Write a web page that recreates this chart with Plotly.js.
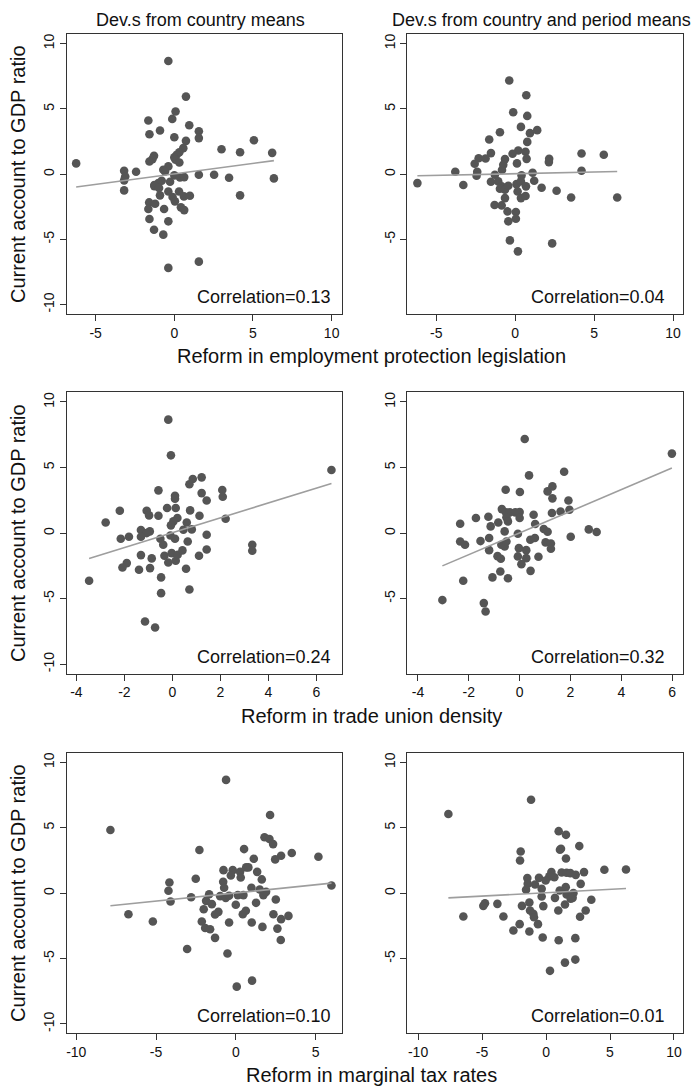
<!DOCTYPE html>
<html>
<head>
<meta charset="utf-8">
<script src="https://cdn.plot.ly/plotly-3.0.1.min.js"></script>
<style>html,body{margin:0;padding:0;background:#fff;}#chart{width:696px;height:1086px;}</style>
</head>
<body>
<div id="chart"></div>
<script>
// ---------------- DATA ----------------
const columnTitles = ["Dev.s from country means", "Dev.s from country and period means"];
const xAxisTitles = ["Reform in employment protection legislation", "Reform in trade union density", "Reform in marginal tax rates"];
const yAxisTitle = "Current account to GDP ratio";

// Panel 1: EPL, deviations from country means
const eplCountryX = [-6.24,-0.38,0.74,0.08,-0.13,-1.65,0.95,-0.91,-1.58,1.56,1.56,0,0.74,5.06,0.57,3.0,4.18,6.22,0.32,0.15,-1.29,-1.39,-1.58,0,0.08,0.32,-0.38,-0.70,-0.59,-3.19,-2.43,-3.12,-3.19,-3.19,0,0.36,0.63,1.56,2.53,3.48,6.33,-0.80,-1.01,-1.27,-1.27,-0.97,-0.27,-0.38,0.30,-0.91,-0.11,0.04,0.61,0.99,4.18,-1.60,-1.22,-1.65,0.42,0.63,-0.65,-1.58,-0.38,-1.29,-0.70,1.56,-0.38];
const eplCountryY = [0.82,8.67,5.94,4.80,4.23,4.11,3.75,3.34,3.06,3.29,2.76,2.83,2.55,2.60,1.99,1.91,1.68,1.63,1.68,1.48,1.40,1.15,0.97,1.28,1.10,0.89,0.59,0.33,0.20,0.26,0.18,-0.18,-0.48,-1.25,-0.10,-0.26,-0.23,-0.05,-0.05,-0.28,-0.33,-0.51,-0.69,-0.84,-0.92,-1.07,-0.59,-1.33,-1.33,-1.63,-1.76,-2.09,-1.71,-1.66,-1.63,-2.17,-2.27,-2.68,-2.55,-2.76,-2.68,-3.44,-3.62,-4.26,-4.64,-6.71,-7.19];

// Panel 2: EPL, deviations from country and period means
const eplPeriodX = [-6.20,-0.38,0.70,-0.13,0.76,0.36,0.93,1.39,-0.97,-1.65,0.76,-1.54,0.19,-0.17,0.65,4.20,5.61,-2.32,-1.88,-2.57,-0.65,-0.76,0.11,0.72,2.15,2.13,-3.80,-2.41,-2.45,-0.84,4.20,1.10,-1.29,-3.29,-1.54,-1.08,-0.86,-0.97,-0.65,-0.44,0.08,0.40,0.36,0.68,1.20,1.67,2.62,0.15,0.36,0.65,3.54,6.46,-0.65,-0.86,-1.31,-0.49,0.04,0.04,-0.44,-0.34,2.34,0.17];
const eplPeriodY = [-0.69,7.17,6.05,4.74,4.46,3.62,3.14,3.37,3.21,2.65,2.47,1.61,1.81,1.56,1.71,1.58,1.48,1.22,1.20,0.79,1.15,0.71,0.82,1.17,1.17,0.92,0.18,0.18,-0.13,0.31,0.26,0.10,-0.05,-0.84,-0.59,-0.56,-0.94,-1.12,-1.20,-0.89,-0.77,-0.10,-0.56,-0.94,-0.51,-1.05,-1.28,-1.33,-1.84,-1.68,-1.79,-1.79,-1.84,-2.40,-2.37,-2.86,-2.91,-3.42,-3.62,-5.08,-5.31,-5.92];

// Panel 3: trade union density, deviations from country means
const tudCountryX = [-3.47,-0.17,-0.06,6.63,1.22,0.85,0.71,-0.58,0.11,0.11,1.22,1.43,2.08,2.10,-2.19,-1.07,-0.97,-0.58,-0.22,0.14,0.74,1.13,2.22,-2.78,0.21,0.04,-0.06,0.60,-1.31,-0.94,-1.07,-1.31,-2.15,-1.81,-0.50,-0.38,-0.08,0.11,0.46,0.81,0.64,1.43,1.43,3.33,3.33,1.11,-1.31,-0.86,-0.33,-0.03,-0.17,0.14,0.22,0.42,-1.90,-2.08,-1.39,-0.93,0.57,-0.47,-0.47,0.71,-1.14,-0.72];
const tudCountryY = [-3.64,8.65,5.93,4.81,4.25,4.12,3.72,3.26,2.85,2.62,3.05,2.49,3.28,2.77,1.70,1.70,1.35,1.32,1.91,1.91,1.73,1.32,1.09,0.81,1.15,0.89,0.59,0.81,0.23,0.13,0.00,-0.28,-0.43,-0.28,-0.43,-0.89,-0.18,-0.43,0.25,0.28,-0.64,-0.13,-1.25,-0.89,-1.35,-1.73,-1.68,-1.93,-1.73,-1.53,-2.24,-2.11,-1.65,-1.32,-2.29,-2.62,-2.80,-2.67,-2.72,-3.38,-4.58,-4.30,-6.74,-7.20];

// Panel 4: trade union density, deviations from country and period means
const tudPeriodX = [-3.04,5.99,0.20,0.37,1.75,-0.55,0.01,1.10,1.29,1.29,1.92,-0.70,-1.72,-1.23,-0.54,-0.39,-0.17,0,-0.52,0,0.55,1.27,1.61,1.96,-2.34,-1.14,-0.84,-0.46,0.61,-0.59,-0.07,0.95,1.10,2.72,3.03,2.01,-2.34,-2.15,-1.54,-1.20,-1.20,-0.72,-0.59,-0.52,-0.87,-0.74,-0.03,-0.07,0.26,0.26,0.07,0.42,0.60,0.74,1.02,1.23,1.23,0.43,-0.76,-1.07,-0.46,-2.22,-1.41,-1.34];
const tudPeriodY = [-5.11,6.06,7.18,4.40,4.68,3.31,3.13,3.18,3.56,2.65,2.49,1.83,1.15,1.25,1.58,1.58,1.58,1.60,1.20,1.15,1.40,1.53,1.65,1.78,0.71,0.51,0.81,0.89,0.69,0.13,-0.05,0.31,0.10,0.28,0.08,-0.28,-0.64,-0.89,-0.61,-0.38,-1.30,-0.89,-1.02,-0.64,-1.76,-1.96,-1.15,-1.78,-1.30,-1.91,-2.37,-0.51,-0.38,-1.81,-0.71,-0.79,-1.20,-2.88,-2.93,-3.38,-3.44,-3.64,-5.34,-5.98];

// Panel 5: marginal tax rates, deviations from country means
const mtrCountryX = [-7.86,-0.61,2.15,1.80,2.11,2.34,-2.28,0.52,3.51,2.84,2.47,5.18,1.13,0.65,0.79,-0.77,-0.19,0.27,1.34,-0.31,0.31,-2.51,-4.16,-0.79,1.63,-4.22,-0.73,0.98,1.50,6.00,-1.67,-2.80,-0.98,-0.63,-0.42,0.13,0.48,1.73,1.90,-4.09,-1.86,-1.50,0,1.27,2.51,-2.01,-1.09,-1.30,0.44,0.63,2.36,3.30,2.84,-6.73,-5.20,-2.13,-0.42,1.00,-1.92,-1.61,1.67,2.61,-1.30,2.82,-3.05,-0.52,1.02,0.06];
const mtrCountryY = [4.83,8.66,5.98,4.27,4.14,3.75,3.30,3.37,3.07,2.86,2.58,2.78,2.63,1.97,1.97,1.76,1.76,1.63,1.63,1.35,1.20,1.10,0.82,0.87,1.05,0.18,0.41,0.41,0.28,0.59,-0.08,-0.31,-0.23,-0.36,-0.20,-0.15,-0.15,-0.15,0.10,-0.64,-0.59,-0.84,-0.89,-0.74,-0.49,-1.23,-1.43,-1.63,-1.61,-1.35,-1.61,-1.74,-1.99,-1.61,-2.17,-2.17,-2.25,-2.25,-2.66,-2.76,-2.58,-2.71,-3.42,-3.58,-4.27,-4.62,-6.69,-7.15];

// Panel 6: marginal tax rates, deviations from country and period means
const mtrPeriodX = [-7.63,-1.17,0.99,1.56,2.60,-1.98,1.09,1.17,-2.03,1.56,4.56,6.25,0.42,1.22,1.61,1.90,2.32,2.97,0.65,0.26,-0.55,-0.03,-1.46,-1.43,-0.86,2.71,-1.56,-0.34,1.54,1.07,1.61,2.14,-0.34,0.70,2.08,3.54,1.93,-4.77,-4.90,-3.80,-1.88,-1.30,-0.21,-1.25,-0.99,1.48,0.96,3.10,-6.46,-3.33,-0.94,2.66,-2.06,-0.63,-2.55,-1.30,-0.26,0.99,2.29,2.29,1.48,0.31];
const mtrPeriodY = [6.05,7.14,4.74,4.46,3.60,3.19,3.32,3.39,2.50,2.65,1.79,1.81,1.61,1.58,1.56,1.53,1.40,1.61,1.22,1.28,1.17,0.97,1.15,0.71,0.66,0.71,0.26,0.33,0.46,0.20,-0.10,0,-0.26,-0.36,-0.36,-0.51,-0.43,-0.77,-0.97,-0.82,-0.97,-0.71,-0.99,-1.33,-1.58,-0.87,-1.33,-1.33,-1.79,-1.79,-1.84,-1.81,-2.37,-2.37,-2.86,-2.93,-3.39,-3.60,-3.44,-5.08,-5.31,-5.94];

// Fitted lines (slope / intercept) and correlations
const fitSlope = [0.161, 0.026, 0.566, 0.826, 0.125, 0.0515];
const fitIntercept = [0.016, 0.03, 0.03, 0.01, 0.013, 0.03];
const correlations = [0.13, 0.04, 0.24, 0.32, 0.10, 0.01];

// Axis ticks and ranges
const xTicksEPL = [-5, 0, 5, 10];
const xTicksTUD = [-4, -2, 0, 2, 4, 6];
const xTicksMTRCountry = [-10, -5, 0, 5];
const xTicksMTRPeriod = [-10, -5, 0, 5, 10];
const yTicksLeft = [-10, -5, 0, 5, 10];
const yTicksRight = [-5, 0, 5, 10];
const xRanges = [[-6.82, 10.66], [-6.84, 10.65], [-4.39, 7.07], [-4.42, 6.44], [-10.58, 6.66], [-10.84, 10.73]];
const yRange = [-10.72, 10.74];

// ---------------- BUILD ----------------
const panelsX = [eplCountryX, eplPeriodX, tudCountryX, tudPeriodX, mtrCountryX, mtrPeriodX];
const panelsY = [eplCountryY, eplPeriodY, tudCountryY, tudPeriodY, mtrCountryY, mtrPeriodY];
const panelXTicks = [xTicksEPL, xTicksEPL, xTicksTUD, xTicksTUD, xTicksMTRCountry, xTicksMTRPeriod];

const colDomains = [[0.0963, 0.4914], [0.5852, 0.9818]];
const rowDomains = [[0.7109, 0.9687], [0.3797, 0.6388], [0.0485, 0.3069]];

const FONT = 'Liberation Sans, Arial, Helvetica, sans-serif';
const traces = [];
const layout = {
  width: 696, height: 1086,
  margin: {l: 0, r: 0, t: 0, b: 0},
  showlegend: false,
  paper_bgcolor: '#ffffff', plot_bgcolor: '#ffffff',
  font: {family: FONT, color: '#111111'},
  annotations: []
};

for (let i = 0; i < 6; i++) {
  const row = Math.floor(i / 2), col = i % 2;
  const sfx = i === 0 ? '' : String(i + 1);
  const xa = 'x' + sfx, ya = 'y' + sfx;
  const xs = panelsX[i], ys = panelsY[i];
  traces.push({
    type: 'scatter', mode: 'markers', x: xs, y: ys, xaxis: xa, yaxis: ya,
    marker: {color: '#555555', size: 8.6}, hoverinfo: 'skip'
  });
  const xmin = Math.min(...xs), xmax = Math.max(...xs);
  traces.push({
    type: 'scatter', mode: 'lines', x: [xmin, xmax],
    y: [fitIntercept[i] + fitSlope[i] * xmin, fitIntercept[i] + fitSlope[i] * xmax],
    xaxis: xa, yaxis: ya, line: {color: '#9e9e9e', width: 1.6}, hoverinfo: 'skip'
  });
  const common = {
    showline: true, mirror: true, linecolor: '#333333', linewidth: 1,
    showgrid: false, zeroline: false, ticks: 'outside', ticklen: 6,
    tickcolor: '#333333', tickwidth: 1, tickfont: {family: FONT, size: 14, color: '#111111'},
    fixedrange: true
  };
  layout['xaxis' + sfx] = Object.assign({}, common, {
    domain: colDomains[col], anchor: ya, range: xRanges[i],
    tickmode: 'array', tickvals: panelXTicks[i], ticktext: panelXTicks[i].map(String)
  });
  const yt = col === 0 ? yTicksLeft : yTicksRight;
  layout['yaxis' + sfx] = Object.assign({}, common, {
    domain: rowDomains[row], anchor: xa, range: yRange,
    tickmode: 'array', tickvals: yt, ticktext: yt.map(String), tickangle: -90
  });
  layout.annotations.push({
    text: 'Correlation=' + correlations[i].toFixed(2),
    xref: xa + ' domain', yref: ya + ' domain', x: 1, y: 0,
    xanchor: 'right', yanchor: 'middle', xshift: col === 0 ? -9 : -16, yshift: 17,
    showarrow: false, font: {family: FONT, size: 18, color: '#111111'}
  });
}

// Column titles
const colCenters = [0.2874, 0.7773];
columnTitles.forEach((t, c) => layout.annotations.push({
  text: t, xref: 'paper', yref: 'paper', x: colCenters[c], y: 1 - 20 / 1086,
  xanchor: 'center', yanchor: 'middle', showarrow: false,
  font: {family: FONT, size: 18, color: '#111111'}
}));
// X axis titles (shared per row)
const xTitleY = [356, 716, 1074.5];
xAxisTitles.forEach((t, r) => layout.annotations.push({
  text: t, xref: 'paper', yref: 'paper', x: 372 / 696, y: 1 - xTitleY[r] / 1086,
  xanchor: 'center', yanchor: 'middle', showarrow: false,
  font: {family: FONT, size: 20, color: '#111111'}
}));
// Y axis titles (left column)
rowDomains.forEach((d) => layout.annotations.push({
  text: yAxisTitle, xref: 'paper', yref: 'paper', x: 18 / 696, y: (d[0] + d[1]) / 2,
  xanchor: 'center', yanchor: 'middle', textangle: -90, showarrow: false,
  font: {family: FONT, size: 20, color: '#111111'}
}));

Plotly.newPlot('chart', traces, layout, {staticPlot: true, displayModeBar: false});
</script>
</body>
</html>
